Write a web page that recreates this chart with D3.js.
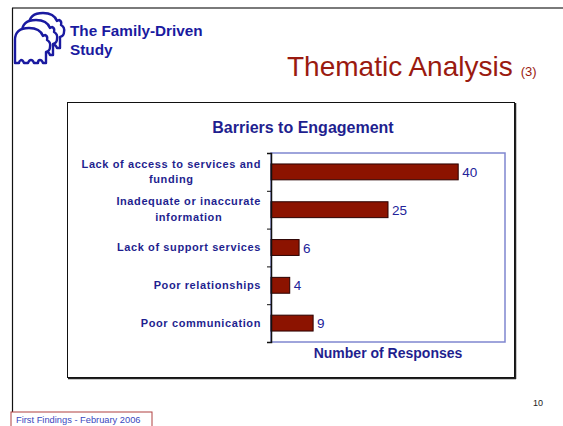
<!DOCTYPE html>
<html>
<head>
<meta charset="utf-8">
<script src="https://cdn.jsdelivr.net/npm/d3@7"></script>
<style>
  body { margin: 0; background: #fff; }
  svg { display: block; font-family: "Liberation Sans", Arial, sans-serif; }
</style>
</head>
<body>
<svg id="vis" width="563" height="426"></svg>
<script>
// chart data
const categoryLabels = [
  ["Lack of access to services and", "funding"],
  ["Inadequate or inaccurate", "information"],
  ["Lack of support services"],
  ["Poor relationships"],
  ["Poor communication"]
];
const responses = [40, 25, 6, 4, 9];
const xMax = 50;

const navy = "#1f1f8f";
const svg = d3.select("#vis");

// slide frame
svg.append("line").attr("x1", 12).attr("x2", 563).attr("y1", 8).attr("y2", 8)
  .attr("stroke", "#7a7a7a").attr("stroke-width", 2);
svg.append("line").attr("x1", 12.5).attr("x2", 12.5).attr("y1", 8).attr("y2", 412)
  .attr("stroke", "#111").attr("stroke-width", 1.2);

// logo: three overlapping silhouettes
function critter(g, dx, dy){
  g.append("path")
    .attr("transform", "translate(" + dx + "," + dy + ")")
    .attr("d", "M0,36 L0,13 Q0,1 14,1 Q25,1 28,9 L30,8 Q33,9 32,13 Q36,15 35,20 Q35,24 31,25 L31,36 " +
               "L28,36 Q27,33 25,33 Q23,33 23,36 L19,36 Q18,33 16,33 Q14,33 13,36 L9,36 Q8,33 6,33 Q4,34 4,36 Z")
    .attr("fill", "#fff")
    .attr("stroke", "#1a1aa0")
    .attr("stroke-width", 2.4)
    .attr("stroke-linejoin", "round");
}
const logo = svg.append("g");
critter(logo, 29, 12);
critter(logo, 22, 19);
critter(logo, 15, 27);

svg.append("text").attr("x", 70).attr("y", 36).attr("fill", "#1a1aa0")
  .style("font-size", "15.3px").style("font-weight", "bold").text("The Family-Driven");
svg.append("text").attr("x", 70).attr("y", 55).attr("fill", "#1a1aa0")
  .style("font-size", "15.3px").style("font-weight", "bold").text("Study");

// slide title
const title = svg.append("text").attr("x", 287).attr("y", 76).attr("fill", "#9a1a10");
title.append("tspan").style("font-size", "28px").text("Thematic Analysis");
title.append("tspan").attr("dx", 8).style("font-size", "13px").text("(3)");

// chart box
svg.append("rect").attr("x", 67.5).attr("y", 102.5).attr("width", 447).attr("height", 275)
  .attr("fill", "#fff").attr("stroke", "#111").attr("stroke-width", 1);
svg.append("line").attr("x1", 515.5).attr("x2", 515.5).attr("y1", 103).attr("y2", 379)
  .attr("stroke", "#222").attr("stroke-width", 1.5);
svg.append("line").attr("x1", 68).attr("x2", 516).attr("y1", 378.5).attr("y2", 378.5)
  .attr("stroke", "#222").attr("stroke-width", 1.5);

const plotL = 271, plotT = 153, plotR = 505, plotB = 342;

const x = d3.scaleLinear().domain([0, xMax]).range([plotL, plotR]);
const y = d3.scaleBand().domain(d3.range(responses.length)).range([plotT, plotB]).paddingInner(0.58).paddingOuter(0.29);
const yEdge = d3.scaleLinear().domain([0, responses.length]).range([plotT, plotB]);

svg.append("text").attr("x", 303).attr("y", 133).attr("text-anchor", "middle")
  .attr("fill", navy).style("font-size", "16px").style("font-weight", "bold")
  .text("Barriers to Engagement");

// plot area
svg.append("rect").attr("x", plotL).attr("y", plotT).attr("width", plotR - plotL).attr("height", plotB - plotT)
  .attr("fill", "none").attr("stroke", "#7f86cf").attr("stroke-width", 1.5);

// bars
svg.selectAll(".bar").data(responses).enter().append("rect")
  .attr("class", "bar")
  .attr("x", x(0))
  .attr("y", (d, i) => y(i))
  .attr("width", d => x(d) - x(0))
  .attr("height", y.bandwidth())
  .attr("fill", "#8c1300")
  .attr("stroke", "#2a0000")
  .attr("stroke-width", 1);

svg.selectAll(".val").data(responses).enter().append("text")
  .attr("class", "val")
  .attr("x", d => x(d) + 4)
  .attr("y", (d, i) => y(i) + y.bandwidth() / 2 + 5)
  .attr("fill", "#23239a")
  .style("font-size", "13.5px")
  .text(d => d);

// category axis with ticks between bands
const axis = svg.append("g").attr("transform", "translate(" + plotL + ",0)")
  .call(d3.axisLeft(yEdge).ticks(responses.length).tickSize(4).tickFormat(""));
axis.select(".domain").attr("stroke", "#111").attr("stroke-width", 1.5);
axis.selectAll(".tick line").attr("stroke", "#111");

// category labels
const labelRight = 261;
categoryLabels.forEach((lines, i) => {
  const cy = (yEdge(i) + yEdge(i + 1)) / 2;
  const g = svg.append("g");
  const texts = lines.map((s, k) => g.append("text")
    .attr("y", cy + 3.5 + (k - (lines.length - 1) / 2) * 15.5)
    .attr("fill", navy)
    .style("font-size", "11px")
    .style("font-weight", "bold")
    .style("letter-spacing", "0.6px")
    .attr("text-anchor", "middle")
    .text(s));
  const w = d3.max(texts, t => t.node().getComputedTextLength());
  texts.forEach(t => t.attr("x", labelRight - w / 2));
});

svg.append("text").attr("x", 388).attr("y", 358).attr("text-anchor", "middle")
  .attr("fill", navy).style("font-size", "14px").style("font-weight", "bold")
  .text("Number of Responses");

// page number and footer
svg.append("text").attr("x", 533).attr("y", 406).attr("fill", "#222")
  .style("font-size", "9px").text("10");
svg.append("rect").attr("x", 11).attr("y", 412).attr("width", 141).attr("height", 18)
  .attr("fill", "#fff").attr("stroke", "#b04040").attr("stroke-width", 1);
svg.append("text").attr("x", 16).attr("y", 423).attr("fill", "#3a48c0")
  .style("font-size", "9.3px").text("First Findings - February 2006");
</script>
</body>
</html>
